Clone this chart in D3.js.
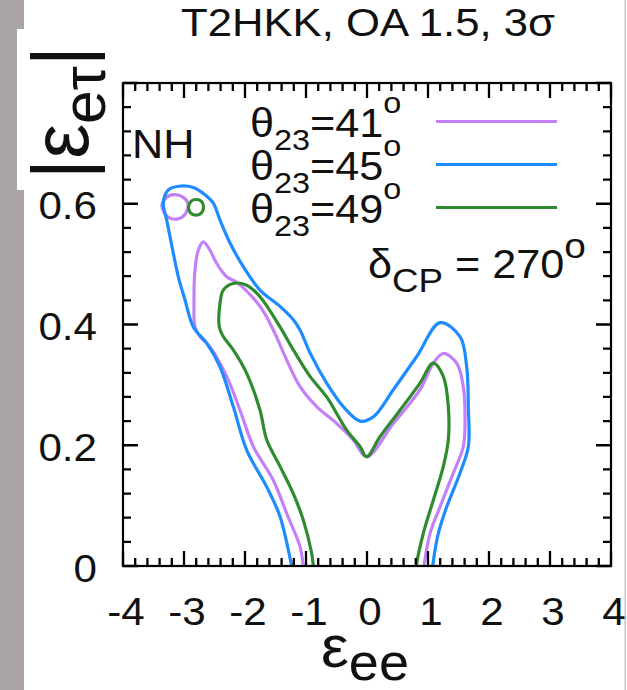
<!DOCTYPE html>
<html>
<head>
<meta charset="utf-8">
<script src="https://cdn.jsdelivr.net/npm/d3@7"></script>
<style>
  body { margin: 0; background: #fff; }
  svg { display: block; }
  text { font-family: "Liberation Sans", Arial, Helvetica, sans-serif; fill: #111; }
</style>
</head>
<body>
<svg id="chart" width="627" height="690"></svg>
<script>
// ---- data -------------------------------------------------------------
const titleText = "T2HKK, OA 1.5, 3σ";
const seriesAngles = ["41", "45", "49"];
const seriesColors = ["#c480f8", "#1e8cff", "#2e8b30"];
const xTicks = [-4, -3, -2, -1, 0, 1, 2, 3, 4];
const yTicks = [0, 0.2, 0.4, 0.6];

// 3σ allowed region boundaries in the (ε_ee, |ε_eτ|) plane
const contour41 = [
  [-1.02,-0.02],[-1.044,0],[-1.098,0.032],[-1.316,0.087],[-1.536,0.142],[-1.864,0.198],
  [-2.082,0.258],[-2.300,0.314],[-2.574,0.363],[-2.738,0.380],[-2.820,0.396],[-2.836,0.435],
  [-2.820,0.490],[-2.766,0.523],[-2.684,0.537],[-2.574,0.523],[-2.464,0.501],[-2.300,0.479],
  [-2.136,0.470],[-1.754,0.430],[-1.536,0.391],[-1.316,0.341],[-1.098,0.297],[-0.825,0.264],
  [-0.497,0.236],[-0.225,0.209],[-0.005,0.181],[0.431,0.236],[0.869,0.292],[1.087,0.336],
  [1.251,0.352],[1.470,0.336],[1.579,0.297],[1.607,0.247],[1.579,0.198],[1.415,0.154],
  [1.197,0.098],[1.033,0.054],[0.934,0],[0.91,-0.02]
];
const island41 = [
  [-3.361,0.596],[-3.295,0.610],[-3.164,0.615],[-3.016,0.611],[-2.934,0.600],
  [-2.967,0.585],[-3.098,0.575],[-3.262,0.578]
];
const contour45 = [
  [-1.19,-0.02],[-1.234,0],[-1.426,0.082],[-1.644,0.131],[-1.972,0.192],[-2.192,0.264],
  [-2.410,0.330],[-2.628,0.369],[-2.847,0.396],[-2.984,0.441],[-3.093,0.479],[-3.230,0.546],
  [-3.284,0.573],[-3.339,0.601],[-3.257,0.623],[-3.093,0.629],[-2.847,0.627],[-2.656,0.615],
  [-2.520,0.601],[-2.410,0.573],[-2.246,0.535],[-2.028,0.496],[-1.754,0.457],[-1.426,0.430],
  [-1.208,0.408],[-1.098,0.391],[-0.934,0.353],[-0.661,0.303],[-0.389,0.264],[-0.115,0.240],
  [0.103,0.247],[0.431,0.292],[0.815,0.347],[1.197,0.403],[1.525,0.380],[1.634,0.330],
  [1.661,0.264],[1.661,0.198],[1.525,0.154],[1.307,0.098],[1.169,0.054],[1.077,0],[1.06,-0.02]
];
const contour49 = [
  [-0.87,-0.02],[-0.88,0],[-0.907,0.021],[-1.044,0.076],[-1.208,0.120],[-1.426,0.165],
  [-1.644,0.209],[-1.754,0.258],[-1.972,0.319],[-2.192,0.358],[-2.356,0.380],[-2.421,0.396],
  [-2.410,0.435],[-2.356,0.457],[-2.192,0.468],[-1.972,0.465],[-1.754,0.446],[-1.426,0.396],
  [-1.208,0.358],[-0.934,0.314],[-0.661,0.280],[-0.333,0.225],[-0.115,0.198],[-0.005,0.181],
  [0.213,0.214],[0.541,0.258],[0.869,0.303],[1.087,0.336],[1.251,0.314],[1.333,0.264],
  [1.333,0.209],[1.251,0.165],[1.087,0.109],[0.923,0.054],[0.815,0.004],[0.80,-0.02]
];
const island49 = [
  [-2.926,0.594],[-2.885,0.604],[-2.803,0.607],[-2.713,0.604],[-2.680,0.594],
  [-2.713,0.585],[-2.803,0.581],[-2.893,0.585]
];

// ---- layout -----------------------------------------------------------
const W = 627, H = 690;
const plot = { left: 123, right: 611, top: 83, bottom: 566 };
const x = d3.scaleLinear().domain([-4, 4]).range([plot.left, plot.right]);
const y = d3.scaleLinear().domain([0, 0.8]).range([plot.bottom, plot.top]);
const stretch = 1.08;   // labels are set slightly wide

const svg = d3.select("#chart");

// backdrop
svg.append("rect").attr("width", W).attr("height", H).attr("fill", "#fff");
svg.append("rect").attr("x", 0).attr("y", 0).attr("width", 24).attr("height", H).attr("fill", "#aaa5a4");
svg.append("rect").attr("x", 17).attr("y", 29).attr("width", 100).attr("height", 161).attr("fill", "#fff");
svg.append("rect").attr("x", 624.5).attr("y", 0).attr("width", 1.5).attr("height", H).attr("fill", "#c4c4c4");

// title
svg.append("text")
  .attr("transform", "translate(368,35.5) scale(1.12,1)")
  .attr("text-anchor", "middle").attr("font-size", 39)
  .text(titleText);

// ---- contours ---------------------------------------------------------
const defs = svg.append("defs");
defs.append("clipPath").attr("id", "plotClip")
  .append("rect").attr("x", plot.left).attr("y", plot.top)
  .attr("width", plot.right - plot.left).attr("height", plot.bottom - plot.top);

const open = d3.line().x(d => x(d[0])).y(d => y(d[1])).curve(d3.curveCatmullRom.alpha(0.5));
const closed = d3.line().x(d => x(d[0])).y(d => y(d[1])).curve(d3.curveCatmullRomClosed.alpha(0.5));

const curves = svg.append("g").attr("clip-path", "url(#plotClip)")
  .attr("fill", "none").attr("stroke-width", 3.2).attr("stroke-linejoin", "round");
const shapes = [
  { d: contour41, gen: open, c: 0 },
  { d: island41, gen: closed, c: 0 },
  { d: contour45, gen: open, c: 1 },
  { d: contour49, gen: open, c: 2 },
  { d: island49, gen: closed, c: 2 }
];
curves.selectAll("path").data(shapes).join("path")
  .attr("d", s => s.gen(s.d)).attr("stroke", s => seriesColors[s.c]);

// frame
svg.append("rect").attr("x", plot.left).attr("y", plot.top)
  .attr("width", plot.right - plot.left).attr("height", plot.bottom - plot.top)
  .attr("fill", "none").attr("stroke", "#000").attr("stroke-width", 2.2);

// ---- ticks (mirrored on all four sides, pointing inward) --------------
const minorX = d3.range(-20, 21).map(i => i / 5);
const minorY = d3.range(0, 21).map(i => i * 0.04);
const majorLen = 15, minorLen = 8;
const xLen = v => Math.abs(v - Math.round(v)) < 1e-6 ? majorLen : minorLen;
const yLen = v => Math.abs(v * 5 - Math.round(v * 5)) < 1e-6 ? majorLen : minorLen;
let tickPath = "";
minorX.forEach(v => {
  const px = x(v), L = xLen(v);
  tickPath += `M${px},${plot.bottom}V${plot.bottom - L}M${px},${plot.top}V${plot.top + L}`;
});
minorY.forEach(v => {
  const py = y(v), L = yLen(v);
  tickPath += `M${plot.left},${py}H${plot.left + L}M${plot.right},${py}H${plot.right - L}`;
});
svg.append("path").attr("d", tickPath)
  .attr("fill", "none").attr("stroke", "#000").attr("stroke-width", 2.3);

// ---- tick labels ------------------------------------------------------
svg.append("g").selectAll("text").data(xTicks).join("text")
  .attr("transform", d => `translate(${x(d) + 3},625) scale(${stretch},1)`)
  .attr("text-anchor", "middle").attr("font-size", 39)
  .text(d => d);
svg.append("g").selectAll("text").data(yTicks).join("text")
  .attr("transform", d => `translate(97,${y(d) + 15.5}) scale(${stretch},1)`)
  .attr("text-anchor", "end").attr("font-size", 39)
  .text(d => d === 0 ? "0" : d.toFixed(1));

// ---- axis titles ------------------------------------------------------
const xl = svg.append("text").attr("font-size", 60);
xl.append("tspan").text("ε");
xl.append("tspan").attr("font-size", 52).attr("dy", 13).text("ee");
const xlLen = xl.node().getComputedTextLength();
xl.attr("transform", `translate(321,667) scale(${88 / xlLen},1)`);

const yl = svg.append("g");
const ylt = yl.append("text").attr("font-size", 80);
ylt.append("tspan").text("|");
ylt.append("tspan").text("ε");
ylt.append("tspan").attr("font-size", 62).attr("dy", 17).text("eτ");
ylt.append("tspan").attr("dy", -17).text("|");
const ylLen = ylt.node().getComputedTextLength();
const barW = 80 * 0.26;
const ys = 113 / (ylLen - barW);
yl.attr("transform", `translate(88,${169 + barW / 2 * ys}) rotate(-90) scale(${ys},1)`);

// ---- annotations ------------------------------------------------------
svg.append("text").attr("transform", `translate(132,158) scale(${stretch},1)`)
  .attr("font-size", 40).text("NH");

const dl = svg.append("text").attr("transform", `translate(368,278) scale(${stretch},1)`).attr("font-size", 40);
dl.append("tspan").text("δ");
dl.append("tspan").attr("font-size", 34).attr("dy", 14).text("CP");
dl.append("tspan").attr("dy", -14).text(" = 270");
dl.append("tspan").attr("font-size", 36).attr("dy", -20).text("o");

// ---- legend -----------------------------------------------------------
const legend = svg.append("g").selectAll("g").data(seriesAngles).join("g")
  .attr("transform", (d, i) => `translate(0,${137 + i * 43})`);
legend.append("line")
  .attr("x1", 436).attr("x2", 557).attr("y1", -15.5).attr("y2", -15.5)
  .attr("stroke", (d, i) => seriesColors[i]).attr("stroke-width", 3.2);
const lt = legend.append("text").attr("transform", `translate(250,0) scale(${stretch},1)`).attr("font-size", 40);
lt.append("tspan").text("θ");
lt.append("tspan").attr("font-size", 30).attr("dy", 13).text("23");
lt.append("tspan").attr("dy", -13).text(d => "=" + d);
lt.append("tspan").attr("font-size", 30).attr("dy", -24).text("o");
</script>
</body>
</html>
